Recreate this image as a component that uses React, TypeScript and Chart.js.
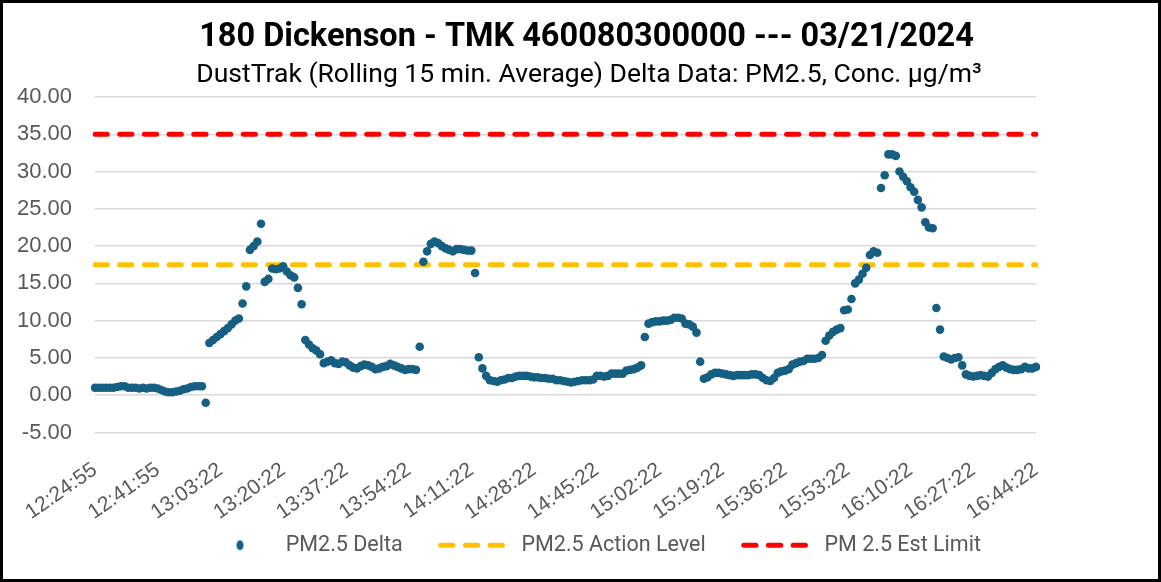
import React, { useEffect, useRef } from 'react';
import { Chart, registerables } from 'chart.js';

Chart.register(...registerables);

const TITLE = '180 Dickenson - TMK 460080300000 --- 03/21/2024';
const SUBTITLE = 'DustTrak (Rolling 15 min. Average) Delta Data: PM2.5, Conc. µg/m³';

// x-axis tick labels, one every TICK_STEP samples
const tickLabels = [
  '12:24:55', '12:41:55', '13:03:22', '13:20:22', '13:37:22', '13:54:22', '14:11:22', '14:28:22',
  '14:45:22', '15:02:22', '15:19:22', '15:36:22', '15:53:22', '16:10:22', '16:27:22', '16:44:22',
];
const TICK_STEP = 17;

// PM2.5 Delta readings (µg/m³), one per sample
const pm25Delta = [
  1.0, 1.0, 1.0, 1.0, 1.0, 1.0, 1.1, 1.2, 1.2, 1.0,
  1.0, 1.0, 0.9, 1.0, 0.9, 1.0, 1.0, 0.9, 0.7, 0.5,
  0.4, 0.4, 0.5, 0.6, 0.8, 0.9, 1.1, 1.2, 1.2, 1.2,
  -1.0, 7.0, 7.4, 7.8, 8.2, 8.6, 9.0, 9.5, 10.0, 10.3,
  12.3, 14.6, 19.5, 20.0, 20.6, 23.0, 15.2, 15.6, 17.0, 16.9,
  17.0, 17.3, 16.6, 16.1, 15.8, 14.4, 12.2, 7.4, 6.8, 6.3,
  6.0, 5.5, 4.3, 4.5, 4.7, 4.3, 4.2, 4.5, 4.4, 4.0,
  3.7, 3.6, 3.9, 4.1, 4.0, 3.8, 3.5, 3.6, 3.8, 3.9,
  4.2, 4.0, 3.8, 3.6, 3.4, 3.5, 3.5, 3.4, 6.5, 17.9,
  19.3, 20.3, 20.6, 20.4, 20.0, 19.7, 19.5, 19.3, 19.6, 19.6,
  19.5, 19.4, 19.4, 16.4, 5.1, 3.6, 2.6, 2.0, 1.9, 1.8,
  2.0, 2.1, 2.3, 2.3, 2.5, 2.6, 2.6, 2.6, 2.5, 2.4,
  2.4, 2.3, 2.3, 2.2, 2.2, 2.0, 2.0, 1.9, 1.8, 1.7,
  1.8, 1.9, 2.0, 2.0, 2.0, 2.1, 2.6, 2.6, 2.5, 2.6,
  2.9, 2.9, 2.9, 2.9, 3.3, 3.4, 3.5, 3.7, 4.0, 7.8,
  9.6, 9.8, 9.9, 9.9, 10.0, 10.0, 10.1, 10.4, 10.4, 10.3,
  9.6, 9.5, 9.2, 8.4, 4.5, 2.2, 2.4, 2.8, 3.0, 3.0,
  2.9, 2.8, 2.7, 2.6, 2.7, 2.7, 2.7, 2.7, 2.8, 2.8,
  2.7, 2.3, 2.0, 1.9, 2.3, 3.0, 3.2, 3.3, 3.5, 4.1,
  4.3, 4.5, 4.6, 4.9, 4.9, 4.9, 5.0, 5.4, 7.3, 8.0,
  8.5, 8.8, 9.0, 11.4, 11.5, 12.9, 15.0, 15.5, 16.3, 17.1,
  18.8, 19.3, 19.1, 27.8, 29.5, 32.3, 32.3, 32.1, 30.0, 29.3,
  28.7, 27.9, 27.3, 26.2, 25.2, 23.2, 22.5, 22.4, 11.7, 8.8,
  5.2, 5.0, 4.8, 5.0, 5.1, 4.0, 2.8, 2.6, 2.5, 2.6,
  2.7, 2.6, 2.5, 3.0, 3.5, 3.8, 4.0, 3.7, 3.5, 3.4,
  3.4, 3.5, 3.8, 3.6, 3.6, 3.8,
];

const ACTION_LEVEL = 17.5;
const EST_LIMIT = 35;
const Y_MIN = -5;
const Y_MAX = 40;
const Y_STEP = 5;

const categories = pm25Delta.map((_, i) => (i % TICK_STEP === 0 ? tickLabels[i / TICK_STEP] : ''));
const firstCat = categories[0];
const lastCat = categories[categories.length - 1];

const POINT_COLOR = '#156082';
const ACTION_COLOR = '#FFC000';
const LIMIT_COLOR = '#FF0000';
const TEXT_GRAY = '#595959';
const GRID_GRAY = '#D9D9D9';
const NARROW = "'Liberation Sans Narrow', 'Arial Narrow', 'Roboto', sans-serif";
const SANS = "'Liberation Sans', Arial, sans-serif";

const W = 1161;
const H = 582;
const BORDER = 3;

export default function App() {
  const ref = useRef<HTMLCanvasElement>(null);

  useEffect(() => {
    document.body.style.margin = '0';
    const canvas = ref.current;
    if (!canvas) return;

    const dot = document.createElement('canvas');
    dot.width = 9;
    dot.height = 12;
    const dctx = dot.getContext('2d');
    if (dctx) {
      dctx.fillStyle = POINT_COLOR;
      dctx.beginPath();
      dctx.ellipse(4.5, 6, 3.5, 5, 0, 0, Math.PI * 2);
      dctx.fill();
    }

    const nudge = {
      id: 'nudge',
      afterLayout(chart: any, _args: any, opts: any) {
        const lg = chart.legend;
        if (lg && lg.lineWidths) {
          const pad = lg.options.labels.padding;
          const start = (lg.left + pad + lg.right - lg.lineWidths[0]) / 2;
          const dx = opts.legendStartX - start;
          lg.left += dx;
          lg.right += dx;
          lg.top += opts.legendDy;
          lg.bottom += opts.legendDy;
        }
        const t = chart.titleBlock;
        if (t) {
          t.left += opts.titleDx;
          t.right += opts.titleDx;
        }
        const st = chart.boxes.find((b: any) => b !== t && b.options && b.options.text === SUBTITLE);
        if (st) {
          st.left += opts.subtitleDx;
          st.right += opts.subtitleDx;
        }
      },
    };

    const chart = new Chart(canvas, {
      type: 'line',
      data: {
        labels: categories,
        datasets: [
          {
            label: 'PM2.5 Delta',
            data: pm25Delta,
            showLine: false,
            pointRadius: 4.3,
            pointHoverRadius: 4.3,
            pointBorderWidth: 0,
            pointBackgroundColor: POINT_COLOR,
            backgroundColor: POINT_COLOR,
            borderColor: POINT_COLOR,
          },
          {
            label: 'PM2.5 Action Level',
            data: [
              { x: firstCat, y: ACTION_LEVEL },
              { x: lastCat, y: ACTION_LEVEL },
            ],
            borderColor: ACTION_COLOR,
            backgroundColor: ACTION_COLOR,
            borderWidth: 5,
            borderDash: [12.3, 12.4],
            borderCapStyle: 'round',
            pointRadius: 0,
            fill: false,
          },
          {
            label: 'PM 2.5 Est Limit',
            data: [
              { x: firstCat, y: EST_LIMIT },
              { x: lastCat, y: EST_LIMIT },
            ],
            borderColor: LIMIT_COLOR,
            backgroundColor: LIMIT_COLOR,
            borderWidth: 5,
            borderDash: [12.3, 12.4],
            borderCapStyle: 'round',
            pointRadius: 0,
            fill: false,
          },
        ] as any,
      },
      options: {
        responsive: false,
        animation: false,
        devicePixelRatio: 1,
        layout: { padding: { top: 0, left: 0, right: 0, bottom: -13 } },
        plugins: {
          tooltip: { enabled: false },
          title: {
            display: true,
            text: TITLE,
            color: '#000000',
            font: { family: NARROW, size: 32.5, weight: 'bold' },
            padding: { top: 15.5, bottom: 0 },
          },
          subtitle: {
            display: true,
            text: SUBTITLE,
            color: '#000000',
            font: { family: NARROW, size: 26.5, weight: 'normal' },
            padding: { top: 1.6, bottom: 6.1 },
          },
          legend: {
            display: true,
            position: 'bottom',
            labels: {
              usePointStyle: true,
              pointStyleWidth: 70,
              padding: 38,
              color: TEXT_GRAY,
              font: { family: NARROW, size: 21.5 },
              generateLabels: (ch: any) =>
                ch.data.datasets.map((ds: any, i: number) => ({
                  text: ds.label,
                  datasetIndex: i,
                  fontColor: TEXT_GRAY,
                  hidden: false,
                  fillStyle: ds.borderColor,
                  strokeStyle: i === 0 ? 'rgba(0,0,0,0)' : ds.borderColor,
                  lineWidth: i === 0 ? 0 : ds.borderWidth,
                  lineDash: i === 0 ? [] : ds.borderDash,
                  lineCap: 'round',
                  pointStyle: i === 0 ? dot : 'line',
                })),
            },
          },
          nudge: { legendStartX: 202, legendDy: -26, titleDx: 6, subtitleDx: 8.5 },
        } as any,
        scales: {
          x: {
            type: 'category',
            offset: false,
            grid: { display: false, drawTicks: false },
            border: { display: false },
            ticks: {
              autoSkip: false,
              minRotation: 35,
              maxRotation: 35,
              padding: 25,
              color: TEXT_GRAY,
              font: { family: SANS, size: 21 },
            },
            afterFit: (s: any) => {
              s.height = 90;
            },
          },
          y: {
            min: Y_MIN,
            max: Y_MAX,
            grid: { color: GRID_GRAY, lineWidth: 1.5, drawTicks: false },
            border: { display: false },
            ticks: {
              stepSize: Y_STEP,
              padding: 23,
              color: TEXT_GRAY,
              font: { family: SANS, size: 22 },
              callback: (v: any) => Number(v).toFixed(2),
            },
            afterFit: (s: any) => {
              s.width = 90;
            },
          },
          yRight: {
            position: 'right',
            display: true,
            grid: { display: false, drawTicks: false },
            border: { display: false },
            ticks: { display: false },
            afterFit: (s: any) => {
              s.width = 122;
            },
          },
        } as any,
      },
      plugins: [nudge as any],
    });

    return () => chart.destroy();
  }, []);

  return (
    <div
      style={{
        width: W,
        height: H,
        boxSizing: 'border-box',
        border: `${BORDER}px solid #000`,
        background: '#fff',
        overflow: 'hidden',
      }}
    >
      <canvas ref={ref} width={W - 2 * BORDER} height={H - 2 * BORDER} style={{ display: 'block' }} />
    </div>
  );
}
